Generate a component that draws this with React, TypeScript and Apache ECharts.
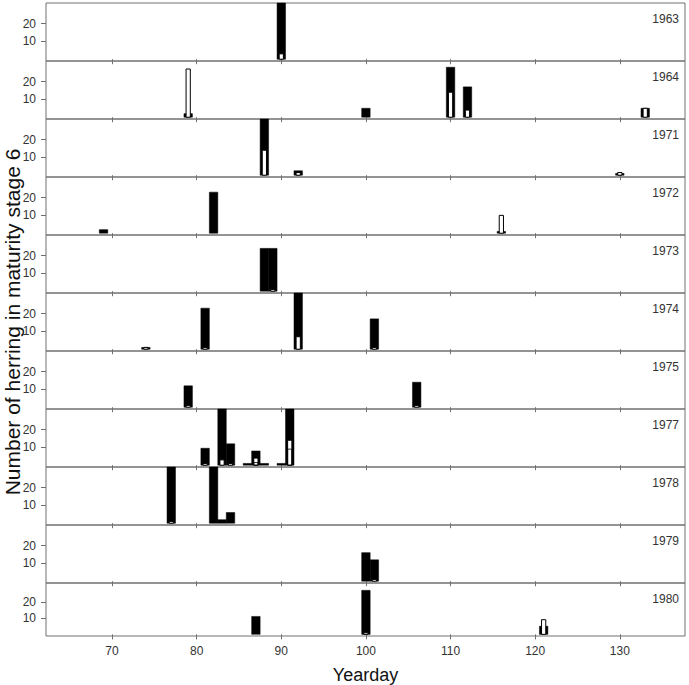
import React, { useEffect, useRef } from 'react';
import * as echarts from 'echarts';

const years = ['1963', '1964', '1971', '1972', '1973', '1974', '1975', '1977', '1978', '1979', '1980'];
const xTicks = [70, 80, 90, 100, 110, 120, 130];
const yTicks = [10, 20];

// rows: [yearday, black bar, white bar, second white bar]
const counts1963 = [[90, 33, 3, 0]];
const counts1964 = [[79, 2, 27, 0], [100, 5, 0, 0], [110, 28, 14, 0], [112, 17, 4, 0], [133, 5, 5, 0]];
const counts1971 = [[88, 33, 14, 0], [92, 2.5, 1.5, 0], [130, 1, 1.5, 0]];
const counts1972 = [[69, 2, 0, 0], [82, 23, 0, 0], [116, 1, 10, 0]];
const counts1973 = [[88, 24, 0, 0], [89, 24, 1, 0]];
const counts1974 = [[74, 1, 1, 0], [81, 23, 1, 0], [92, 33, 7, 0], [101, 17, 1, 0]];
const counts1975 = [[79, 12, 1, 0], [106, 14, 1, 0]];
const counts1977 = [[81, 9.5, 1, 0], [83, 33, 3, 0], [84, 12, 1, 0], [86, 1, 0, 0], [87, 8, 4, 1.5], [88, 1, 0, 0], [90, 1, 0, 0], [91, 33, 14, 9]];
const counts1978 = [[77, 33, 1, 0], [82, 33, 0, 0], [83, 2, 0, 0], [84, 6, 0, 0]];
const counts1979 = [[100, 16, 0, 0], [101, 12, 1, 0]];
const counts1980 = [[87, 11, 0, 0], [100, 27, 1, 0], [121, 5, 9, 0]];

const panels = [counts1963, counts1964, counts1971, counts1972, counts1973, counts1974, counts1975, counts1977, counts1978, counts1979, counts1980];

const FONT = '"Liberation Sans", Arial, sans-serif';
const FRAME = '#707070';
const TOP = 3;
const PANEL_H = 58;
const LEFT = 46;
const RIGHT = 4;

export default function App() {
  const ref = useRef<HTMLDivElement>(null);
  useEffect(() => {
    if (!ref.current) return;
    const chart = echarts.init(ref.current, undefined, { renderer: 'svg' });
    const n = panels.length;
    const grids: any[] = [];
    const xAxes: any[] = [];
    const yAxes: any[] = [];
    const series: any[] = [];
    const graphics: any[] = [];
    for (let i = 0; i < n; i++) {
      const last = i === n - 1;
      grids.push({
        left: LEFT, right: RIGHT, top: TOP + PANEL_H * i, height: PANEL_H,
        show: true, borderColor: FRAME, borderWidth: 1, backgroundColor: 'transparent',
      });
      xAxes.push({
        type: 'value', gridIndex: i, min: 62.2, max: 137.7,
        axisLine: { show: false },
        axisTick: { show: true, length: 5, customValues: xTicks, lineStyle: { color: FRAME } },
        axisLabel: { show: last, customValues: xTicks, color: '#333', fontSize: 12, margin: 9, fontFamily: FONT },
        splitLine: { show: false },
        name: last ? 'Yearday' : '', nameLocation: 'middle', nameGap: 30,
        nameTextStyle: { fontSize: 18, color: '#111', fontFamily: FONT },
      });
      yAxes.push({
        type: 'value', gridIndex: i, min: -1, max: 31.5,
        axisLine: { show: false },
        axisTick: { show: true, length: 5, customValues: yTicks, lineStyle: { color: FRAME } },
        axisLabel: { customValues: yTicks, color: '#333', fontSize: 12, margin: 10, fontFamily: FONT },
        splitLine: { show: false },
      });
      series.push({
        type: 'custom', xAxisIndex: i, yAxisIndex: i,
        data: panels[i],
        encode: { x: 0, y: 1 },
        renderItem: (params: any, api: any) => {
          const d = api.value(0);
          const b = api.value(1);
          const w = api.value(2);
          const w2 = api.value(3);
          const cs = params.coordSys;
          const clip = { x: cs.x, y: cs.y, width: cs.width, height: cs.height };
          const rect = (x0: number, x1: number, v: number) => {
            const p0 = api.coord([x0, 0]);
            const p1 = api.coord([x1, v]);
            return echarts.graphic.clipRectByRect(
              { x: p0[0], y: p1[1], width: p1[0] - p0[0], height: p0[1] - p1[1] },
              clip
            );
          };
          const children: any[] = [];
          if (b > 0) {
            const r = rect(d - 0.5, d + 0.5, b);
            if (r) children.push({ type: 'rect', shape: r, style: { fill: '#000', stroke: '#000', lineWidth: 0.5 } });
          }
          if (w > 0) {
            const r = rect(d - 0.25, d + 0.25, w);
            if (r) children.push({ type: 'rect', shape: r, style: { fill: '#fff', stroke: '#000', lineWidth: 1 } });
          }
          if (w2 > 0) {
            const r = rect(d - 0.25, d + 0.25, w2);
            if (r) children.push({ type: 'rect', shape: r, style: { fill: 'none', stroke: '#000', lineWidth: 0.8 } });
          }
          return { type: 'group', children };
        },
      });
      graphics.push({
        type: 'text', x: 689 - RIGHT - 6, y: TOP + PANEL_H * i + 16,
        style: { text: years[i], font: `12px ${FONT}`, fill: '#333', textAlign: 'right', textVerticalAlign: 'middle' },
      });
    }
    graphics.push({
      type: 'text', x: 12, y: 322, rotation: Math.PI / 2,
      style: { text: 'Number of herring in maturity stage 6', font: `21px ${FONT}`, fill: '#111', textAlign: 'center', textVerticalAlign: 'middle' },
    });
    chart.setOption({
      animation: false,
      backgroundColor: '#fff',
      grid: grids,
      xAxis: xAxes,
      yAxis: yAxes,
      series,
      graphic: graphics,
    });
    return () => chart.dispose();
  }, []);
  return <div ref={ref} style={{ position: 'absolute', left: 0, top: 0, width: 689, height: 685 }} />;
}
